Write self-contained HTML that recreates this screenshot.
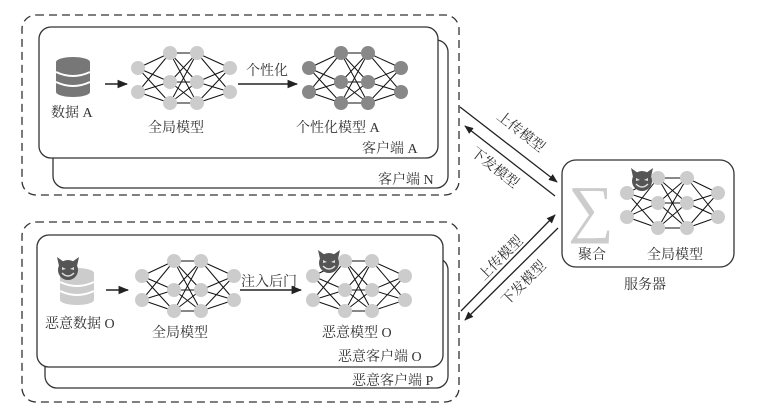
<!DOCTYPE html>
<html><head><meta charset="utf-8"><style>
body{margin:0;background:#fff}
svg{display:block}
text{font-family:"Liberation Serif","Noto Serif CJK SC",serif;font-size:14px;fill:#333}
</style></head><body>
<svg width="779" height="419" viewBox="0 0 779 419" xmlns="http://www.w3.org/2000/svg">
<defs>
<marker id="ah" viewBox="0 0 10 10" refX="9" refY="5" markerWidth="7" markerHeight="7" orient="auto-start-reverse"><path d="M0,1 L10,5 L0,9 z" fill="#222"/></marker>
<g id="devil">
<circle cx="0" cy="0" r="10" fill="#555"/>
<path d="M-9,-4 L-11,-13 L-4,-8 z M9,-4 L11,-13 L4,-8 z" fill="#555"/>
<path d="M-6,-3 L-2,-1 L-6,0 z M6,-3 L2,-1 L6,0 z" fill="#ddd"/>
<path d="M-6,3 Q0,9 6,3" stroke="#ddd" stroke-width="1.5" fill="none"/>
</g>
</defs>

<rect x="22" y="15" width="437" height="180" rx="14" fill="none" stroke="#333" stroke-width="1.3" stroke-dasharray="8,5"/>
<rect x="53" y="40" width="395" height="148" rx="12" fill="#fff" stroke="#333" stroke-width="1.3"/>
<rect x="39" y="27" width="399" height="131" rx="12" fill="#fff" stroke="#333" stroke-width="1.3"/>
<text x="378" y="184">客户端 N</text>
<text x="362" y="153">客户端 A</text>

<g fill="#777">
<ellipse cx="73" cy="62" rx="17" ry="5"/>
<rect x="56" y="62" width="34" height="30"/>
<ellipse cx="73" cy="92" rx="17" ry="5"/>
</g>
<path d="M56,72 Q73,80 90,72 M56,82 Q73,90 90,82" stroke="#fff" stroke-width="2" fill="none"/>
<text x="51" y="117">数据 A</text>
<line x1="105" y1="84" x2="127" y2="84" stroke="#222" stroke-width="1.5" marker-end="url(#ah)"/>

<g stroke="#111" stroke-width="1">
<path d="M138,68L170,53M138,68L170,82M138,68L170,103M138,92L170,53M138,92L170,82M138,92L170,103
M170,53L197,53M170,53L197,82M170,53L197,103M170,82L197,53M170,82L197,82M170,82L197,103M170,103L197,53M170,103L197,82M170,103L197,103
M197,53L230,68M197,82L230,68M197,103L230,68M197,53L230,92M197,82L230,92M197,103L230,92"/>
<g fill="#ccc" stroke="none">
<circle cx="138" cy="68" r="7"/><circle cx="138" cy="92" r="7"/>
<circle cx="170" cy="53" r="7"/><circle cx="170" cy="82" r="7"/><circle cx="170" cy="103" r="7"/>
<circle cx="197" cy="53" r="7"/><circle cx="197" cy="82" r="7"/><circle cx="197" cy="103" r="7"/>
<circle cx="230" cy="68" r="7"/><circle cx="230" cy="92" r="7"/>
</g></g>
<text x="148" y="132">全局模型</text>
<line x1="238" y1="84" x2="297" y2="84" stroke="#222" stroke-width="1.5" marker-end="url(#ah)"/>
<text x="246" y="75">个性化</text>

<g stroke="#111" stroke-width="1" transform="translate(171,0)">
<path d="M138,68L170,53M138,68L170,82M138,68L170,103M138,92L170,53M138,92L170,82M138,92L170,103
M170,53L197,53M170,53L197,82M170,53L197,103M170,82L197,53M170,82L197,82M170,82L197,103M170,103L197,53M170,103L197,82M170,103L197,103
M197,53L230,68M197,82L230,68M197,103L230,68M197,53L230,92M197,82L230,92M197,103L230,92"/>
<g fill="#888" stroke="none">
<circle cx="138" cy="68" r="7"/><circle cx="138" cy="92" r="7"/>
<circle cx="170" cy="53" r="7"/><circle cx="170" cy="82" r="7"/><circle cx="170" cy="103" r="7"/>
<circle cx="197" cy="53" r="7"/><circle cx="197" cy="82" r="7"/><circle cx="197" cy="103" r="7"/>
<circle cx="230" cy="68" r="7"/><circle cx="230" cy="92" r="7"/>
</g></g>
<text x="296" y="132">个性化模型 A</text>

<rect x="22" y="222" width="437" height="180" rx="14" fill="none" stroke="#333" stroke-width="1.3" stroke-dasharray="8,5"/>
<rect x="45" y="258" width="403" height="130" rx="12" fill="#fff" stroke="#333" stroke-width="1.3"/>
<rect x="37" y="235" width="406" height="132" rx="12" fill="#fff" stroke="#333" stroke-width="1.3"/>
<text x="352" y="385">恶意客户端 P</text>
<text x="338" y="361">恶意客户端 O</text>

<g fill="#ccc">
<ellipse cx="77" cy="273" rx="17" ry="5"/>
<rect x="60" y="273" width="34" height="27"/>
<ellipse cx="77" cy="300" rx="17" ry="5"/>
</g>
<path d="M60,282 Q77,290 94,282 M60,291 Q77,299 94,291" stroke="#fff" stroke-width="2" fill="none"/>
<use href="#devil" transform="translate(68,270)"/>
<text x="45" y="328">恶意数据 O</text>
<line x1="106" y1="290" x2="128" y2="290" stroke="#222" stroke-width="1.5" marker-end="url(#ah)"/>

<g stroke="#111" stroke-width="1" transform="translate(4,208)">
<path d="M138,68L170,53M138,68L170,82M138,68L170,103M138,92L170,53M138,92L170,82M138,92L170,103
M170,53L197,53M170,53L197,82M170,53L197,103M170,82L197,53M170,82L197,82M170,82L197,103M170,103L197,53M170,103L197,82M170,103L197,103
M197,53L230,68M197,82L230,68M197,103L230,68M197,53L230,92M197,82L230,92M197,103L230,92"/>
<g fill="#ccc" stroke="none">
<circle cx="138" cy="68" r="7"/><circle cx="138" cy="92" r="7"/>
<circle cx="170" cy="53" r="7"/><circle cx="170" cy="82" r="7"/><circle cx="170" cy="103" r="7"/>
<circle cx="197" cy="53" r="7"/><circle cx="197" cy="82" r="7"/><circle cx="197" cy="103" r="7"/>
<circle cx="230" cy="68" r="7"/><circle cx="230" cy="92" r="7"/>
</g></g>
<text x="152" y="337">全局模型</text>
<line x1="240" y1="290" x2="301" y2="290" stroke="#222" stroke-width="1.5" marker-end="url(#ah)"/>
<text x="241" y="286">注入后门</text>

<g stroke="#111" stroke-width="1" transform="translate(175,208)">
<path d="M138,68L170,53M138,68L170,82M138,68L170,103M138,92L170,53M138,92L170,82M138,92L170,103
M170,53L197,53M170,53L197,82M170,53L197,103M170,82L197,53M170,82L197,82M170,82L197,103M170,103L197,53M170,103L197,82M170,103L197,103
M197,53L230,68M197,82L230,68M197,103L230,68M197,53L230,92M197,82L230,92M197,103L230,92"/>
<g fill="#ccc" stroke="none">
<circle cx="138" cy="68" r="7"/><circle cx="138" cy="92" r="7"/>
<circle cx="170" cy="53" r="7"/><circle cx="170" cy="82" r="7"/><circle cx="170" cy="103" r="7"/>
<circle cx="197" cy="53" r="7"/><circle cx="197" cy="82" r="7"/><circle cx="197" cy="103" r="7"/>
<circle cx="230" cy="68" r="7"/><circle cx="230" cy="92" r="7"/>
</g></g>
<use href="#devil" transform="translate(329,263)"/>
<text x="322" y="337">恶意模型 O</text>

<rect x="562" y="160" width="172" height="107" rx="14" fill="#fff" stroke="#333" stroke-width="1.3"/>
<text x="568" y="230" style="font-size:64px;fill:#ccc;font-family:'Liberation Serif',serif">∑</text>
<g stroke="#111" stroke-width="1">
<path d="M627,193L658,178M627,193L658,203M627,193L658,228M627,217L658,178M627,217L658,203M627,217L658,228
M658,178L687,178M658,178L687,203M658,178L687,228M658,203L687,178M658,203L687,203M658,203L687,228M658,228L687,178M658,228L687,203M658,228L687,228
M687,178L718,193M687,203L718,193M687,228L718,193M687,178L718,217M687,203L718,217M687,228L718,217"/>
<g fill="#ccc" stroke="none">
<circle cx="627" cy="193" r="7"/><circle cx="627" cy="217" r="7"/>
<circle cx="658" cy="178" r="7"/><circle cx="658" cy="203" r="7"/><circle cx="658" cy="228" r="7"/>
<circle cx="687" cy="178" r="7"/><circle cx="687" cy="203" r="7"/><circle cx="687" cy="228" r="7"/>
<circle cx="718" cy="193" r="7"/><circle cx="718" cy="217" r="7"/>
</g></g>
<use href="#devil" transform="translate(642,181)"/>
<text x="578" y="259">聚合</text>
<text x="647" y="259">全局模型</text>
<text x="624" y="289">服务器</text>

<line x1="460" y1="107" x2="557" y2="182" stroke="#222" stroke-width="1.3" marker-end="url(#ah)"/>
<line x1="555" y1="196" x2="465" y2="126" stroke="#222" stroke-width="1.3" marker-end="url(#ah)"/>
<line x1="461" y1="311" x2="555" y2="215" stroke="#222" stroke-width="1.3" marker-end="url(#ah)"/>
<line x1="558" y1="228" x2="465" y2="320" stroke="#222" stroke-width="1.3" marker-end="url(#ah)"/>
<text transform="translate(496,118) rotate(38)">上传模型</text>
<text transform="translate(470,154) rotate(38)">下发模型</text>
<text transform="translate(484,281) rotate(-45)">上传模型</text>
<text transform="translate(507,306) rotate(-45)">下发模型</text>
</svg>
</body></html>
